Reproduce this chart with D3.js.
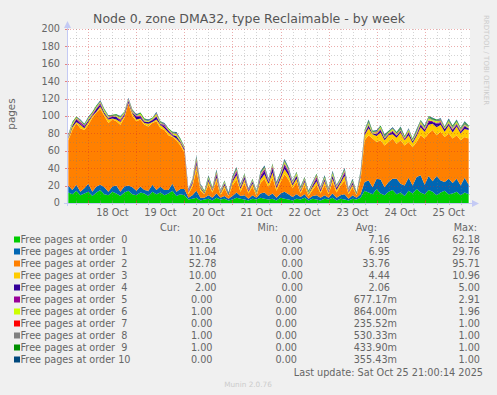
<!DOCTYPE html>
<html><head><meta charset="utf-8">
<script src="https://cdn.jsdelivr.net/npm/d3@7"></script>
<style>
html,body{margin:0;padding:0;background:#F0F0F0;}
svg{display:block;font-family:"DejaVu Sans",sans-serif;}
</style></head><body>
<svg id="chart" width="497" height="395"></svg>
<script>
const title = "Node 0, zone DMA32, type Reclaimable - by week";
const yLabel = "pages";
const seriesLabels = ["Free pages at order  0","Free pages at order  1","Free pages at order  2","Free pages at order  3","Free pages at order  4","Free pages at order  5","Free pages at order  6","Free pages at order  7","Free pages at order  8","Free pages at order  9","Free pages at order 10"];
const seriesColors = ["#00CC00","#0066B3","#FF8000","#FFCC00","#330099","#990099","#CCFF00","#FF0000","#808080","#008F00","#00487D"];

// samples every 2 hours starting Oct 17 14:00
const order0 = [12,10,14,9,11,13,8,12,15,10,9,13,11,8,12,14,10,9,12,11,8,13,10,12,9,11,14,8,10,9,
  4,5,6,3,4,5,3,6,4,5,3,4,6,5,4,3,5,4,6,5,4,5,3,6,5,4,3,5,4,6,3,5,4,3,5,4,6,3,5,4,3,5,4,6,
  14,12,10,16,11,9,13,15,10,12,8,14,11,16,12,10,15,13,9,12,14,10,11,13,9,12,10];
const order1 = [8,5,7,4,6,9,5,7,6,8,4,6,9,5,7,6,8,5,7,4,6,8,5,7,6,4,8,5,6,7,
  2,4,8,3,2,4,3,5,2,3,2,4,6,3,5,2,4,2,5,7,4,6,3,5,8,6,4,5,3,4,2,3,5,3,4,2,5,3,4,6,2,4,2,4,
  10,14,8,12,16,9,11,13,18,10,12,15,9,14,20,11,16,12,22,14,10,18,12,15,11,17,11];
const order2 = [52,69,71,73,67,68,85,85,87,82,79,77,74,77,79,94,82,80,77,75,74,71,79,67,69,63,54,59,50,42,
  4,10,24,8,4,12,6,14,3,9,3,12,15,5,14,6,10,2,12,16,10,18,8,13,20,17,10,14,4,10,3,7,12,5,12,4,13,6,11,16,5,9,3,16,
  48,52,56,42,45,48,46,46,40,50,46,41,44,40,46,53,49,59,47,56,52,52,51,50,52,47,53];
const order3 = [2,3,1,4,2,3,2,1,3,2,4,1,2,3,2,1,3,2,1,2,3,1,2,4,2,3,1,2,3,2,
  2,3,6,3,1,4,2,4,2,3,1,4,5,3,4,2,3,2,4,5,4,6,3,4,6,5,3,4,2,4,2,3,4,2,4,2,4,3,3,5,2,3,1,4,
  6,8,5,7,9,6,8,5,7,9,6,8,5,7,9,8,10,7,9,8,6,9,7,10,8,9,10];
const order4 = [1,2,3,1,2,2,1,3,2,2,1,2,3,1,2,2,1,3,2,1,2,2,3,1,2,2,1,3,1,2,
  1,2,3,1,1,2,1,3,1,2,1,2,3,2,3,1,2,1,3,4,2,5,2,3,4,3,2,3,1,2,1,2,3,2,2,1,3,2,2,3,1,2,1,2,
  2,3,1,2,3,2,1,3,2,2,1,3,2,2,3,2,3,2,4,2,3,2,3,2,2,3,2];
const order5 = [1,0,1,2,1,0,1,1,2,0,1,1,0,2,1,1,0,1,2,1,0,1,1,0,2,1,1,0,1,1,
  1,1,2,1,0,1,1,2,0,1,0,1,2,1,1,1,1,0,2,2,1,2,1,1,2,2,1,1,1,1,0,1,2,1,1,1,1,1,1,2,1,1,0,1,
  1,1,0,1,1,0,1,1,1,0,1,1,0,1,1,1,2,1,1,1,0,1,1,1,1,1,0];
const order6 = [1,2,1,1,0,2,1,1,1,2,1,0,1,2,1,1,1,0,2,1,1,1,2,1,0,1,1,2,1,1,
  0,1,2,1,1,1,1,1,1,1,0,1,1,1,1,0,1,1,1,1,1,1,1,1,2,1,1,2,1,1,1,1,1,1,1,1,2,1,1,1,1,1,0,1,
  1,2,1,1,2,1,1,2,1,1,1,2,1,1,2,1,2,1,2,1,1,2,1,2,1,1,1];
const order7 = [0,0,0.5,0,0,0,0.5,0,0,0,0,0.5,0,0,0,0,0.5,0,0,0,0,0,0.5,0,0,0,0,0.5,0,0,
  0,0,0.5,0,0,0,0,0.5,0,0,0,0,0.5,0,0,0,0,0,0.5,0,0,0.5,0,0,0.5,0,0,0,0,0,0,0,0.5,0,0,0,0,0,0,0.5,0,0,0,0,
  0,0,0,0.5,0,0,0,0,0.5,0,0,0,0,0,0.5,0,0,0,0,0.5,0,0,0,0,0.5,0,0];
const order8 = [1,1,0,1,1,1,0,1,1,1,1,0,1,1,0,1,1,1,0,1,1,0,1,1,1,0,1,1,1,0,
  1,1,1,1,0,1,0,1,1,1,0,1,1,1,1,1,1,0,1,1,1,1,1,1,1,1,1,1,1,1,0,1,1,1,1,1,1,1,1,1,1,1,0,1,
  1,2,1,1,1,2,1,1,1,2,1,1,1,2,1,1,2,1,1,2,1,1,2,1,1,2,1];
const order9 = [0,1,1,0,1,0,1,1,0,1,0,1,1,0,1,0,1,0,1,1,0,1,0,1,0,1,1,0,1,0,
  0,1,1,0,1,1,1,1,0,1,1,1,1,0,1,0,1,1,1,1,0,1,1,1,1,1,0,1,1,1,1,0,1,0,1,1,1,0,1,1,0,1,1,1,
  1,1,1,0,1,1,1,0,1,1,1,0,1,1,1,1,1,1,1,0,1,1,1,1,1,1,1];
const order10 = [1,0,0,1,0,1,0,0,1,0,1,0,0,1,0,1,0,1,0,0,1,0,1,0,1,0,0,1,0,1,
  1,0,1,1,0,1,0,1,1,0,1,1,1,1,0,1,0,1,1,1,1,0,1,1,1,1,1,0,1,0,1,1,0,1,1,0,1,1,0,1,1,1,0,1,
  0,1,0,1,0,1,0,1,0,1,0,1,0,1,0,1,0,1,0,1,0,1,0,1,0,1,0];

const yTicks = [0,20,40,60,80,100,120,140,160,180,200];
const xTickLabels = ["18 Oct","19 Oct","20 Oct","21 Oct","22 Oct","23 Oct","24 Oct","25 Oct"];
const legendHeaders = ["Cur:","Min:","Avg:","Max:"];
const curVals = ["10.16","11.04","52.78","10.00","2.00","0.00","1.00","0.00","1.00","1.00","0.00"];
const minVals = ["0.00","0.00","0.00","0.00","0.00","0.00","0.00","0.00","0.00","0.00","0.00"];
const avgVals = ["7.16","6.95","33.76","4.44","2.06","677.17m","864.00m","235.52m","530.33m","433.90m","355.43m"];
const maxVals = ["62.18","29.76","95.71","10.96","5.00","2.91","1.96","1.00","1.00","1.00","1.00"];
const lastUpdate = "Last update: Sat Oct 25 21:00:14 2025";
const footer = "Munin 2.0.76";
const watermark = "RRDTOOL / TOBI OETIKER";

const seriesData = [order0,order1,order2,order3,order4,order5,order6,order7,order8,order9,order10];
const startTime = new Date(2025,9,17,14,0);
const stepMs = 2*3600*1000;
const nPts = d3.min(seriesData, s => s.length);
const rows = d3.range(nPts).map(i => {
  const r = {t: new Date(+startTime + i*stepMs)};
  seriesData.forEach((s,k) => r["s"+k] = s[i]);
  return r;
});
const keys = seriesData.map((s,k) => "s"+k);

const svg = d3.select("#chart");
const L = 67, R = 470, T = 29, B = 203;
const x = d3.scaleTime().domain([new Date(2025,9,17,13,20), new Date(2025,9,25,22,40)]).range([L,R]);
const y = d3.scaleLinear().domain([0,200]).range([B,T]);

// canvas
svg.append("rect").attr("x",L).attr("y",T).attr("width",R-L).attr("height",B-T).attr("fill","#FFFFFF");

// stacked areas
const stack = d3.stack().keys(keys);
const layers = stack(rows);
const area = d3.area().x(d => x(d.data.t)).y0(d => y(d[0])).y1(d => y(d[1])).curve(d3.curveLinear);
svg.append("g").selectAll("path").data(layers).join("path")
  .attr("d", area).attr("fill", (d,i) => seriesColors[i]);

// grid
const grid = svg.append("g").attr("stroke-width",1).attr("stroke-dasharray","1,2");
const minorGray = "rgba(120,120,120,0.32)", majorRed = "rgba(205,40,40,0.38)";
y.ticks(20).forEach(v => {
  if (v === 0) return;
  grid.append("line").attr("x1",L).attr("x2",R).attr("y1",Math.round(y(v))+0.5).attr("y2",Math.round(y(v))+0.5)
    .attr("stroke", v % 20 === 0 ? majorRed : minorGray);
});
d3.timeHour.every(6).range(x.domain()[0], x.domain()[1]).forEach(t => {
  const isMajor = t.getHours() === 0;
  const px = Math.round(x(t))+0.5;
  grid.append("line").attr("x1",px).attr("x2",px).attr("y1",T).attr("y2",B)
    .attr("stroke", isMajor ? majorRed : minorGray);
  svg.append("line").attr("x1",px).attr("x2",px).attr("y1",B-2).attr("y2",B+2)
    .attr("stroke", isMajor ? "rgba(220,60,60,0.6)" : "rgba(140,140,140,0.5)");
});
yTicks.forEach(v => {
  svg.append("line").attr("x1",L-2).attr("x2",L+2).attr("y1",Math.round(y(v))+0.5).attr("y2",Math.round(y(v))+0.5)
    .attr("stroke","rgba(220,60,60,0.6)");
});

// axes
const axisCol = "#C4CAF4";
svg.append("line").attr("x1",L-3).attr("x2",R+4).attr("y1",B+0.5).attr("y2",B+0.5).attr("stroke",axisCol);
svg.append("line").attr("x1",L+0.5).attr("x2",L+0.5).attr("y1",B+3).attr("y2",T-4).attr("stroke",axisCol);
svg.append("path").attr("d",`M${L+0.5},${T-8} L${L-3},${T-1} L${L+4},${T-1} Z`).attr("fill",axisCol);
svg.append("path").attr("d",`M${R+9},${B+0.5} L${R+2},${B-3} L${R+2},${B+4} Z`).attr("fill",axisCol);

// y tick labels
const fontCol = "#666666";
svg.append("g").selectAll("text").data(yTicks).join("text")
  .attr("x",60).attr("y",d => y(d)).attr("dy","0.36em").attr("text-anchor","end")
  .attr("font-size","9.7px").attr("fill",fontCol).text(d => d);

// x tick labels at noon of each day
svg.append("g").selectAll("text").data(xTickLabels).join("text")
  .attr("x",(d,i) => x(new Date(2025,9,18+i,12,0))).attr("y",216).attr("text-anchor","middle")
  .attr("font-size","9.7px").attr("fill",fontCol).text(d => d);

// title
svg.append("text").attr("x",249).attr("y",22.5).attr("text-anchor","middle")
  .attr("font-size","12.5px").attr("fill","#555555").text(title);

// y label
svg.append("text").attr("transform","translate(15,114) rotate(-90)").attr("text-anchor","middle")
  .attr("font-size","10.4px").attr("fill",fontCol).text(yLabel);

// watermark
svg.append("text").attr("transform","translate(484,15) rotate(90)").attr("text-anchor","start")
  .attr("font-size","7px").attr("fill","#CCCCCC").text(watermark);

// legend headers
const headerRight = [180,278,377,477];
legendHeaders.forEach((h,i) => {
  svg.append("text").attr("x",headerRight[i]).attr("y",231).attr("text-anchor","end")
    .attr("font-size","9.7px").attr("fill",fontCol).text(h);
});

// legend rows
seriesLabels.forEach((lab,i) => {
  const by = 243 + 12*i;
  const mRow = avgVals[i].endsWith("m");
  svg.append("rect").attr("x",14).attr("y",by-6.5).attr("width",6).attr("height",6).attr("fill",seriesColors[i]);
  svg.append("text").attr("x",20.5).attr("y",by).attr("font-size","9.7px").attr("fill",fontCol)
    .style("white-space","pre").attr("xml:space","preserve").text(lab);
  const cols = [
    [curVals[i], mRow ? 212.5 : 216.5],
    [minVals[i], mRow ? 297 : 303],
    [avgVals[i], mRow ? 397 : 390],
    [maxVals[i], 480]
  ];
  cols.forEach(([v,xr]) => {
    svg.append("text").attr("x",xr).attr("y",by).attr("text-anchor","end")
      .attr("font-size","9.7px").attr("fill",fontCol).text(v);
  });
});

svg.append("text").attr("x",483).attr("y",376).attr("text-anchor","end")
  .attr("font-size","9.7px").attr("fill",fontCol).text(lastUpdate);
svg.append("text").attr("x",248).attr("y",387).attr("text-anchor","middle")
  .attr("font-size","7.3px").attr("fill","#CCCCCC").text(footer);
</script>
</body></html>
